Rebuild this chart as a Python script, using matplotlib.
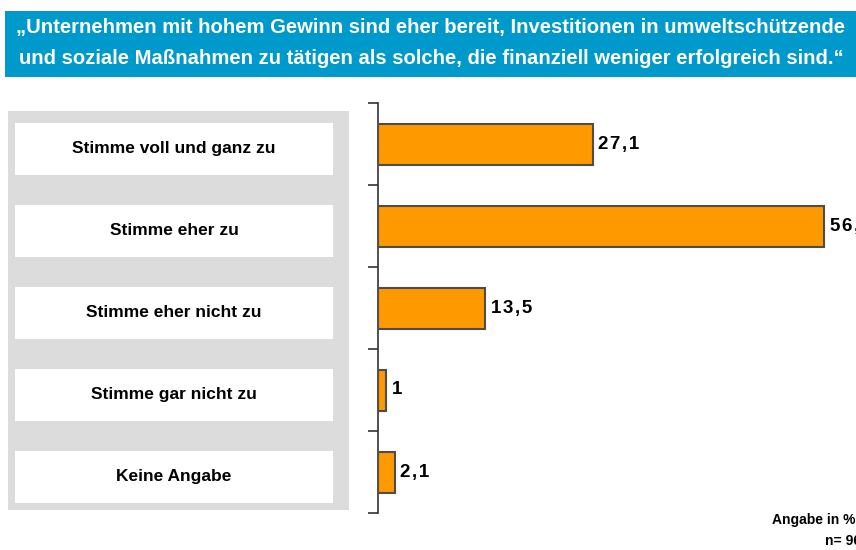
import matplotlib
matplotlib.use("Agg")
import matplotlib.pyplot as plt
from matplotlib.patches import Rectangle
from matplotlib.transforms import blended_transform_factory

categories = [
    "Stimme voll und ganz zu",
    "Stimme eher zu",
    "Stimme eher nicht zu",
    "Stimme gar nicht zu",
    "Keine Angabe",
]
values = [27.1, 56.3, 13.5, 1.0, 2.1]
value_labels = ["27,1", "56,3", "13,5", "1", "2,1"]
title_lines = [
    "\u201eUnternehmen mit hohem Gewinn sind eher bereit, Investitionen in umweltschützende",
    "und soziale Maßnahmen zu tätigen als solche, die finanziell weniger erfolgreich sind.\u201c",
]
footnotes = ["Angabe in %", "n= 967"]

W, H = 856, 550
plt.rcParams["font.family"] = ["Liberation Sans", "DejaVu Sans"]

fig = plt.figure(figsize=(W / 100, H / 100), dpi=100)

# blue title banner
fig.patches.append(Rectangle((5 / W, 1 - 77 / H), 1, 66 / H, transform=fig.transFigure,
                             facecolor="#0099CC", edgecolor="none", zorder=0))
fig.text(431 / W, 1 - 28 / H, title_lines[0], color="white", fontsize=14.6,
         fontweight="bold", ha="center", va="center")
fig.text(431 / W, 1 - 59 / H, title_lines[1], color="white", fontsize=14.6,
         fontweight="bold", ha="center", va="center")

# bar axes
ax = fig.add_axes([378 / W, 1 - 513 / H, 1 - 378 / W, 410 / H])
n = len(categories)
ypos = list(range(n))
ax.barh(ypos, values, height=0.5, color="#FF9900", edgecolor="#4d4d4d", linewidth=1.5, zorder=3)
ax.set_xlim(0, (W - 378) / 7.93)
ax.set_ylim(n - 0.5, -0.5)
ax.set_facecolor("none")
for s in ["top", "right", "bottom"]:
    ax.spines[s].set_visible(False)
ax.spines["left"].set_color("#333333")
ax.spines["left"].set_linewidth(1.2)
ax.set_xticks([])
ax.set_yticks([i - 0.5 for i in range(n + 1)])
ax.set_yticklabels([])
ax.tick_params(axis="y", length=7, width=1.2, color="#333333")
for y, v, lab in zip(ypos, values, value_labels):
    ax.text(v + 0.7, y, "\u200a".join(lab), fontsize=13.5, fontweight="bold",
            ha="left", va="center", clip_on=False)

# grey panel with white label boxes
fig.patches.append(Rectangle((8 / W, 1 - 510 / H), 341 / W, 399 / H, transform=fig.transFigure,
                             facecolor="#DCDCDC", edgecolor="none", zorder=0))
tr = blended_transform_factory(fig.transFigure, ax.transData)
for y, cat in zip(ypos, categories):
    yc = y + 0.06
    fig.patches.append(Rectangle((15 / W, yc - 0.32), 318 / W, 0.64, transform=tr,
                                 facecolor="white", edgecolor="none", zorder=1))
    fig.text(174 / W, yc, cat, transform=tr, fontsize=12.5, fontweight="bold",
             ha="center", va="center")

fig.text(772 / W, 1 - 520 / H, footnotes[0], fontsize=10, fontweight="bold", ha="left", va="center")
fig.text(825 / W, 1 - 541 / H, footnotes[1], fontsize=10, fontweight="bold", ha="left", va="center")

fig.savefig("out.png", dpi=100)
